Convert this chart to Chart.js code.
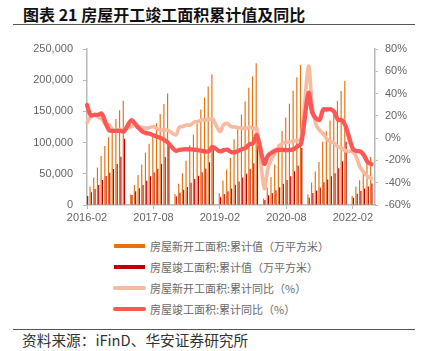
<!DOCTYPE html>
<html>
<head>
<meta charset="utf-8">
<script src="https://cdn.jsdelivr.net/npm/chart.js@4.4.1/dist/chart.umd.min.js"></script>
<style>
  html, body { margin: 0; padding: 0; background: #fff; }
  body { width: 421px; height: 351px; position: relative; overflow: hidden; }
  .title { position: absolute; left: 23px; top: 4px; font: bold 16px/20px "Noto Sans CJK SC", sans-serif; color: #111; white-space: nowrap; }
  .rule { position: absolute; left: 13px; width: 402px; height: 1px; background: #555; }
  #chart { position: absolute; left: 0; top: 30px; }
  .legend { position: absolute; left: 113px; top: 236px; }
  .row { position: relative; height: 21px; }
  .swatch { position: absolute; left: 1px; top: 8px; width: 31px; height: 4px; }
  .swatch.round { left: 0; width: 33px; border-radius: 2px; }
  .label { position: absolute; left: 37px; top: 1px; font: 11px/18px "Noto Sans CJK SC", sans-serif; color: #6a6a6a; white-space: nowrap; }
  .source { position: absolute; left: 22px; top: 331px; font: 14.7px/18px "Noto Sans CJK SC", sans-serif; color: #333; white-space: nowrap; }
</style>
</head>
<body>
<div class="title">图表 21 房屋开工竣工面积累计值及同比</div>
<div class="rule" style="top:24px"></div>
<canvas id="chart" width="421" height="200"></canvas>
<div class="legend">
  <div class="row"><span class="swatch" style="background:#E8700F"></span><span class="label">房屋新开工面积:累计值（万平方米）</span></div>
  <div class="row"><span class="swatch" style="background:#C00000"></span><span class="label">房屋竣工面积:累计值（万平方米）</span></div>
  <div class="row"><span class="swatch round" style="background:#F8BBA1"></span><span class="label">房屋新开工面积:累计同比（%）</span></div>
  <div class="row"><span class="swatch round" style="background:#FF5656"></span><span class="label">房屋竣工面积:累计同比（%）</span></div>
</div>
<div class="rule" style="top:329px"></div>
<div class="source">资料来源：iFinD、华安证券研究所</div>

<script>
// Monthly categories, 2016-02 .. 2022-08 (January has no release, so it stays empty).
const months = [
  "2016-02","2016-03","2016-04","2016-05","2016-06","2016-07","2016-08","2016-09","2016-10","2016-11","2016-12",
  "2017-01","2017-02","2017-03","2017-04","2017-05","2017-06","2017-07","2017-08","2017-09","2017-10","2017-11","2017-12",
  "2018-01","2018-02","2018-03","2018-04","2018-05","2018-06","2018-07","2018-08","2018-09","2018-10","2018-11","2018-12",
  "2019-01","2019-02","2019-03","2019-04","2019-05","2019-06","2019-07","2019-08","2019-09","2019-10","2019-11","2019-12",
  "2020-01","2020-02","2020-03","2020-04","2020-05","2020-06","2020-07","2020-08","2020-09","2020-10","2020-11","2020-12",
  "2021-01","2021-02","2021-03","2021-04","2021-05","2021-06","2021-07","2021-08","2021-09","2021-10","2021-11","2021-12",
  "2022-01","2022-02","2022-03","2022-04","2022-05","2022-06","2022-07","2022-08"
];

// Only these months carry a tick label / tick mark on the x axis.
const xTickLabels = ["2016-02", "2017-08", "2019-02", "2020-08", "2022-02"];

// 房屋新开工面积:累计值 (万平方米)
const newStartCum = [
  16000, 29500, 44000, 60000, 78500, 94500, 108500, 122500, 138000, 152000, 166928,
  null, 17000, 32000, 48000, 65000, 84000, 98000, 114000, 131000, 146000, 162000, 178654,
  null, 17500, 34000, 51000, 71000, 95800, 113000, 130000, 153000, 172000, 190000, 209342,
  null, 18814, 39407, 56959, 75230, 105509, 124000, 145000, 165707, 188000, 206000, 227154,
  null, 10370, 28203, 44678, 64850, 97536, 118769, 140050, 162415, 182940, 204763, 224433,
  null, 17013, 36163, 53846, 68997, 101241, 118084, 135502, 152944, 166736, 182820, 198895,
  null, 14949, 29638, 39739, 51628, 66423, 76918, null
];

// 房屋竣工面积:累计值 (万平方米)
const completedCum = [
  14400, 20500, 25600, 32000, 40000, 46500, 51500, 57700, 65700, 77400, 106128,
  null, 16000, 22000, 27000, 32000, 39000, 46000, 52000, 58000, 66000, 77000, 101486,
  null, 14200, 19600, 24500, 29000, 35500, 41500, 47000, 52500, 58500, 68500, 93550,
  null, 12500, 17800, 22000, 26500, 32500, 37500, 44000, 50000, 58000, 67000, 95942,
  null, 8151, 15557, 19286, 23455, 28621, 34000, 40000, 46000, 54000, 63000, 91218,
  null, 11427, 19122, 23053, 28000, 36481, 41000, 46000, 51013, 59000, 70000, 101412,
  null, 11500, 18000, 22500, 26500, 29500, 34527, null
];

// 房屋新开工面积:累计同比 (%)
const newStartYoY = [
  13.7, 19.2, 21.4, 18.9, 17.2, 12.6, 12.2, 6.9, 7.4, 7.6, 8.1,
  null, 10.4, 11.6, 10.5, 9.5, 8.8, 9.5, 10.3, 8.5, 7.3, 7.5, 7.0,
  null, 2.9, 9.7, 10.5, 11.8, 11.8, 14.4, 14.7, 16.4, 16.3, 16.8, 17.2,
  null, 6.0, 11.9, 13.1, 10.5, 10.1, 9.5, 8.9, 8.6, 10.0, 8.6, 8.5,
  null, -44.9, -27.2, -18.4, -12.8, -7.6, -4.5, -3.6, -3.4, -2.7, -2.0, -1.2,
  null, 64.3, 28.2, 12.8, 6.9, 3.8, -0.9, -3.2, -4.5, -7.7, -9.1, -11.4,
  null, -12.2, -17.5, -26.3, -30.6, -34.4, -36.1, null
];

// 房屋竣工面积:累计同比 (%)
const completedYoY = [
  29.7, 20.5, 20.8, 21.0, 22.0, 14.0, 7.0, 6.5, 6.5, 6.5, 6.1,
  null, 16.1, 13.0, 9.0, 6.0, 4.5, 4.0, 2.5, 1.3, 0.0, -1.7, -4.4,
  null, -11.3, -10.5, -10.0, -10.0, -10.0, -10.3, -10.8, -11.3, -12.0, -11.8, -7.8,
  null, -11.9, -10.8, -10.3, -12.4, -12.7, -11.3, -10.0, -8.6, -5.5, -4.5, 2.6,
  null, -22.9, -15.8, -13.0, -11.0, -10.5, -10.6, -10.7, -10.5, -10.0, -7.3, -4.9,
  null, 40.4, 22.9, 17.9, 16.4, 25.7, 25.7, 26.0, 23.4, 16.4, 16.2, 11.2,
  null, -9.6, -11.5, -11.9, -15.3, -21.5, -23.3, null
];

(function () {
  "use strict";

  const COLORS = {
    newBar: "#E8700F",
    doneBar: "#C00000",
    newLine: "#F8BBA1",
    doneLine: "#FF5656",
    axis: "#b8b8b8",
    tick: "#666666",
  };

  const FONT = { family: "'Liberation Sans', Arial, sans-serif", size: 11 };

  // Pin the plot box to the reference: x 87..375, y 49..205 on the page.
  function fixWidth(w) { return function (scale) { scale.width = w; }; }
  function fixHeight(h) { return function (scale) { scale.height = h; }; }

  const ctx = document.getElementById("chart").getContext("2d");
  new Chart(ctx, {
    type: "bar",
    data: {
      labels: months,
      datasets: [
        // lines first so they paint on top of the bars
        {
          type: "line", label: "房屋竣工面积:累计同比（%）", data: completedYoY, yAxisID: "yR",
          borderColor: COLORS.doneLine, borderWidth: 4.3, pointRadius: 0, tension: 0.35,
          spanGaps: true, borderCapStyle: "round", borderJoinStyle: "round",
        },
        {
          type: "line", label: "房屋新开工面积:累计同比（%）", data: newStartYoY, yAxisID: "yR",
          borderColor: COLORS.newLine, borderWidth: 3.7, pointRadius: 0, tension: 0.35,
          spanGaps: true, borderCapStyle: "round", borderJoinStyle: "round",
        },
        {
          label: "房屋新开工面积:累计值（万平方米）", data: newStartCum, yAxisID: "yL",
          backgroundColor: COLORS.newBar, categoryPercentage: 0.7, barPercentage: 0.9,
        },
        {
          label: "房屋竣工面积:累计值（万平方米）", data: completedCum, yAxisID: "yL",
          backgroundColor: COLORS.doneBar, categoryPercentage: 0.7, barPercentage: 0.9,
        },
      ],
    },
    options: {
      responsive: false,
      animation: false,
      layout: { padding: { top: 19, left: 0, right: 0, bottom: 0 } },
      plugins: { legend: { display: false }, tooltip: { enabled: false } },
      scales: {
        x: {
          offset: false,
          afterFit: fixHeight(25),
          grid: { offset: false, drawOnChartArea: false, color: COLORS.axis, tickLength: 4 },
          border: { color: COLORS.axis, width: 1.5 },
          ticks: {
            autoSkip: false, maxRotation: 0, padding: 2, color: COLORS.tick, font: FONT,
            callback: function (v, i) {
              const m = months[i];
              return xTickLabels.indexOf(m) >= 0 ? m : null;
            },
          },
        },
        yL: {
          position: "left", min: 0, max: 250000,
          afterFit: fixWidth(87),
          grid: { drawOnChartArea: false, color: COLORS.axis, tickLength: 4 },
          border: { color: COLORS.axis, width: 1.5 },
          ticks: {
            stepSize: 50000, padding: 10, color: COLORS.tick, font: FONT,
            callback: function (v) { return v.toLocaleString("en-US"); },
          },
        },
        yR: {
          position: "right", min: -60, max: 80,
          afterFit: fixWidth(46),
          grid: { drawOnChartArea: false, color: COLORS.axis, tickLength: 3 },
          border: { color: COLORS.axis, width: 1.5 },
          ticks: {
            stepSize: 20, padding: 7, crossAlign: "near", color: COLORS.tick, font: FONT,
            callback: function (v) { return v + "%"; },
          },
        },
      },
    },
  });
})();
</script>
</body>
</html>
